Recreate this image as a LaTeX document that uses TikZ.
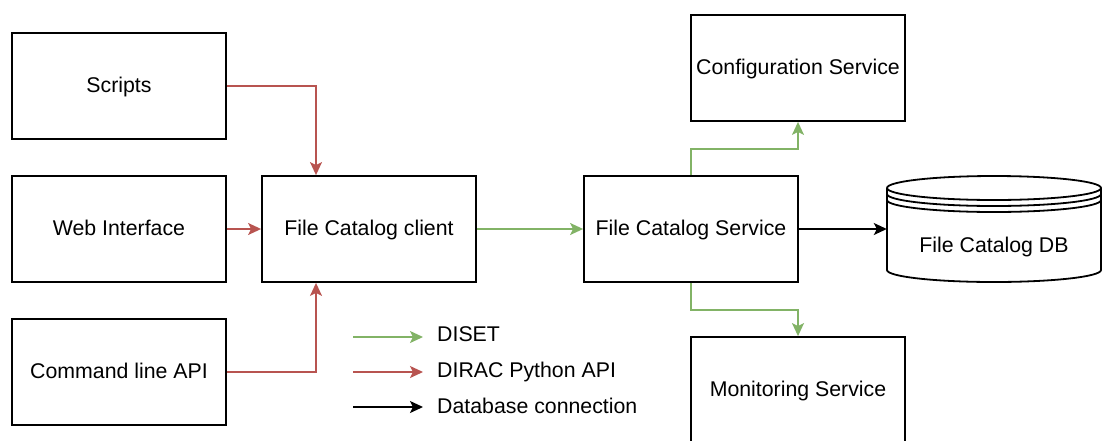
\documentclass[tikz,border=0pt]{standalone}
\usepackage{fontspec}
\setmainfont{Liberation Sans}
\usetikzlibrary{arrows.meta}
\definecolor{dgreen}{HTML}{82B366}
\definecolor{dred}{HTML}{B85450}
\tikzset{
  box/.style={draw=black, line width=1.8pt, minimum width=214pt, minimum height=106pt, inner sep=0pt, text height=16.5pt, text depth=4.5pt, font=\fontsize{21.3}{25}\selectfont},
  conn/.style={line width=1.6pt, -{Stealth[length=13pt,width=12pt,inset=3pt]}},
  diset/.style={conn, draw=dgreen, -{Stealth[length=13pt,width=12pt,inset=3pt,fill=dgreen]}},
  api/.style={conn, draw=dred, -{Stealth[length=13pt,width=12pt,inset=3pt,fill=dred]}},
  dbc/.style={conn, draw=black},
  legtext/.style={anchor=base west, inner sep=0pt, font=\fontsize{21.3}{25}\selectfont}
}
\begin{document}
\begin{tikzpicture}[x=1pt,y=-1pt]
\useasboundingbox (0,0) rectangle (1103,440);
\clip (0,0) rectangle (1103,440);
\node[box] (scripts) at (119,86) {Scripts};
\node[box] (web) at (119,229) {Web Interface};
\node[box] (cli) at (119,372) {Command line API};
\node[box] (client) at (369,229) {File Catalog client};
\node[box] (service) at (691,229) {File Catalog Service};
\node[box] (config) at (798,68) {Configuration Service};
\node[box] (monitor) at (798,390) {Monitoring Service};
% database cylinder
\node[minimum width=214pt, minimum height=106pt, inner sep=0pt] (db) at (994,229) {};
\draw[line width=1.8pt, fill=white]
  (887,188) -- (887,270) arc[start angle=180, end angle=0, x radius=107, y radius=12]
  -- (1101,188) arc[start angle=0, end angle=-180, x radius=107, y radius=12] -- cycle;
\draw[line width=1.8pt] (887,188) arc[start angle=180, end angle=0, x radius=107, y radius=12];
\draw[line width=1.8pt] (887,194) arc[start angle=180, end angle=0, x radius=107, y radius=12];
\draw[line width=1.8pt] (887,200) arc[start angle=180, end angle=0, x radius=107, y radius=12];
\node[anchor=base, inner sep=0pt, font=\fontsize{21.3}{25}\selectfont] (dbtext) at (994,252) {File Catalog DB};
% connectors
\draw[api] (scripts.east) -| (client.north -| 316,0);
\draw[api] (web.east) -- (client.west);
\draw[api] (cli.east) -| (client.south -| 316,0);
\draw[diset] (client.east) -- (service.west);
\draw[diset] (service.north) -- ++(0,-26) -| (config.south);
\draw[diset] (service.south) -- ++(0,27) -| (monitor.north);
\draw[dbc] (service.east) -- (db.west);
% legend
\coordinate (l1a) at (353,337); \coordinate (l1b) at (423,337);
\coordinate (l2a) at (353,372); \coordinate (l2b) at (423,372);
\coordinate (l3a) at (353,407); \coordinate (l3b) at (423,407);
\draw[diset] (l1a) -- (l1b);
\draw[api] (l2a) -- (l2b);
\draw[dbc] (l3a) -- (l3b);
\node[legtext] (t1) at (437,341) {DISET};
\node[legtext] (t2) at (437,377.5) {DIRAC Python API};
\node[legtext] (t3) at (437,413) {Database connection};
\end{tikzpicture}
\end{document}
